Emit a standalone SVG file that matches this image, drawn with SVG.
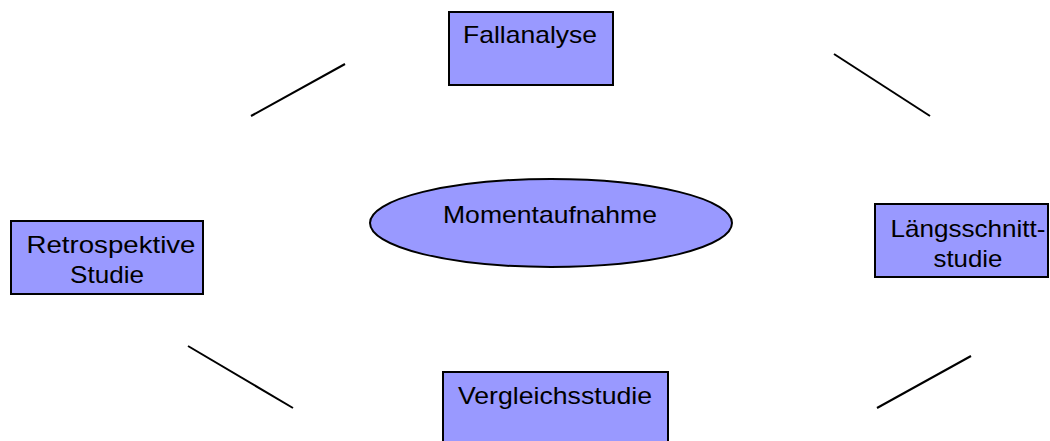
<svg xmlns="http://www.w3.org/2000/svg" width="1050" height="441" viewBox="0 0 1050 441">
<style>
.n{fill:#9999FF;stroke:#000;stroke-width:2}
.t{font-family:"Liberation Sans",Arial,sans-serif;font-size:24px;fill:#000;text-anchor:middle}
.c{stroke:#000;stroke-width:2;fill:none}
</style>
<rect width="1050" height="441" fill="#fff"/>
<g id="connectors">
<line class="c" x1="251" y1="116" x2="345" y2="64"/>
<line class="c" x1="834" y1="54" x2="930" y2="116"/>
<line class="c" x1="188" y1="346" x2="293" y2="408"/>
<line class="c" x1="877" y1="408" x2="971" y2="356"/>
</g>
<g id="fallanalyse">
<rect class="n" x="449" y="12" width="164" height="73"/>
<text class="t" x="530" y="43" textLength="134" lengthAdjust="spacingAndGlyphs">Fallanalyse</text>
</g>
<g id="retrospektive">
<rect class="n" x="11" y="221" width="192" height="73"/>
<text class="t" x="111" y="253" textLength="169" lengthAdjust="spacingAndGlyphs">Retrospektive</text>
<text class="t" x="107" y="283" textLength="74" lengthAdjust="spacingAndGlyphs">Studie</text>
</g>
<g id="laengsschnitt">
<rect class="n" x="875" y="204" width="173" height="73"/>
<text class="t" x="968" y="237" textLength="155" lengthAdjust="spacingAndGlyphs">Längsschnitt-</text>
<text class="t" x="968" y="267" textLength="69" lengthAdjust="spacingAndGlyphs">studie</text>
</g>
<g id="vergleichsstudie">
<rect class="n" x="443" y="372" width="225" height="80"/>
<text class="t" x="555" y="404" textLength="194" lengthAdjust="spacingAndGlyphs">Vergleichsstudie</text>
</g>
<g id="momentaufnahme">
<ellipse class="n" cx="551" cy="223" rx="181" ry="44"/>
<text class="t" x="550" y="223" textLength="214" lengthAdjust="spacingAndGlyphs">Momentaufnahme</text>
</g>
</svg>
